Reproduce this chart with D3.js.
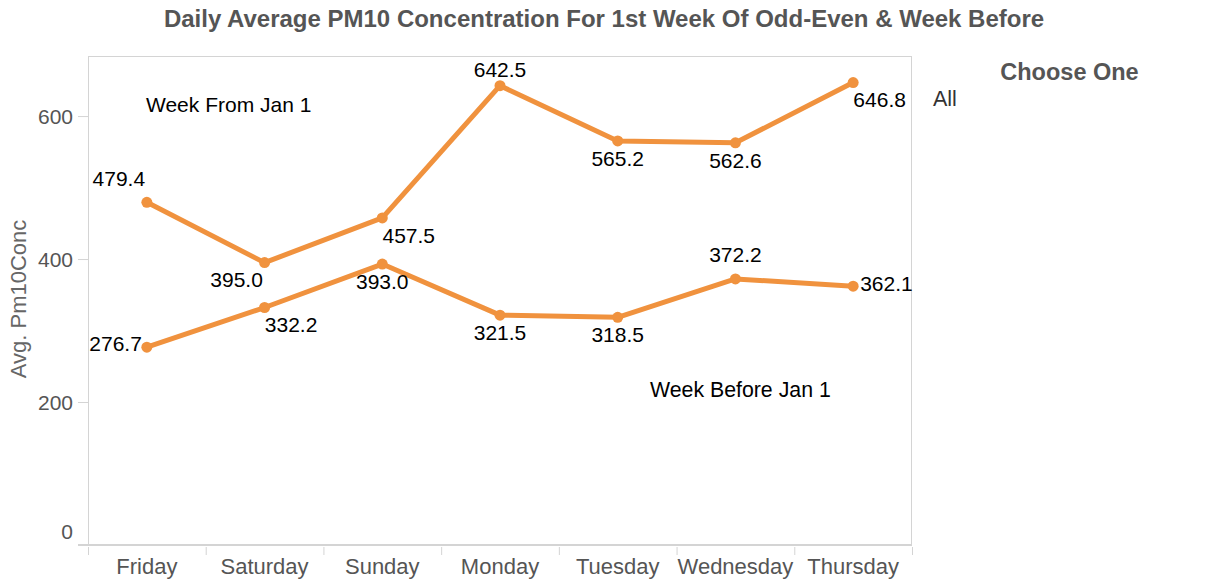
<!DOCTYPE html>
<html>
<head>
<meta charset="utf-8">
<script src="https://d3js.org/d3.v7.min.js"></script>
<style>
  body { margin: 0; background: #fff; }
  svg text { font-family: Arial, "Liberation Sans", "DejaVu Sans", sans-serif; }
</style>
</head>
<body>
<div id="chart"></div>
<script>
var svgWidth = 1208;
var svgHeight = 588;

// data
var days = ["Friday", "Saturday", "Sunday", "Monday", "Tuesday", "Wednesday", "Thursday"];
var weekFrom = [479.4, 395.0, 457.5, 642.5, 565.2, 562.6, 646.8];
var weekBefore = [276.7, 332.2, 393.0, 321.5, 318.5, 372.2, 362.1];
var yTicks = [0, 200, 400, 600];

// where each value label sits relative to its point
var fromLabelPos = ["aboveLeft", "belowLeft", "belowRight", "above", "below", "below", "belowRight"];
var beforeLabelPos = ["left", "belowRight", "below", "below", "below", "above", "right"];

var margin = { top: 56, right: 296, bottom: 43, left: 88 };
var width = svgWidth - margin.left - margin.right;
var height = svgHeight - margin.top - margin.bottom;

var svg = d3.select("#chart")
  .append("svg")
  .attr("width", svgWidth)
  .attr("height", svgHeight);

var chartGroup = svg.append("g")
  .attr("transform", `translate(${margin.left}, ${margin.top})`);

var xScale = d3.scaleBand()
  .domain(days)
  .range([0, width]);

var yScale = d3.scaleLinear()
  .domain([0, 684])
  .range([height, 0]);

var orange = "#f0923e";
var frameColor = "#d4d4d4";

// frame
chartGroup.append("rect")
  .attr("x", 0.5)
  .attr("y", 0.5)
  .attr("width", width - 1)
  .attr("height", height)
  .attr("fill", "none")
  .attr("stroke", frameColor)
  .attr("stroke-width", 1);

// y axis
var leftAxis = d3.axisLeft(yScale)
  .tickValues(yTicks)
  .tickSize(10)
  .tickPadding(5)
  .tickFormat(d3.format("d"));

var yAxis = chartGroup.append("g").call(leftAxis);
yAxis.select(".domain").remove();
yAxis.selectAll("line").attr("stroke", frameColor);
yAxis.selectAll("text")
  .attr("fill", "#555")
  .style("font-size", "21px")
  .attr("dy", null)
  .attr("y", d => d === 0 ? -7 : 7);

// bottom axis line (slightly heavier)
chartGroup.append("line")
  .attr("x1", -10)
  .attr("x2", width)
  .attr("y1", height)
  .attr("y2", height)
  .attr("stroke", frameColor)
  .attr("stroke-width", 2);

// x axis: labels centred on bands, tick marks on band edges
var xAxis = chartGroup.append("g")
  .attr("transform", `translate(0, ${height})`);

xAxis.selectAll("line.sep")
  .data(days.concat(["end"]))
  .enter()
  .append("line")
  .attr("class", "sep")
  .attr("x1", (d, i) => i * xScale.bandwidth() + 0.5)
  .attr("x2", (d, i) => i * xScale.bandwidth() + 0.5)
  .attr("y1", 2)
  .attr("y2", 10)
  .attr("stroke", frameColor);

xAxis.selectAll("text")
  .data(days)
  .enter()
  .append("text")
  .attr("x", d => xScale(d) + xScale.bandwidth() / 2)
  .attr("y", 29)
  .attr("text-anchor", "middle")
  .attr("fill", "#555")
  .style("font-size", "22px")
  .text(d => d);

// y axis title
svg.append("text")
  .attr("transform", "translate(26, 299) rotate(-90)")
  .attr("text-anchor", "middle")
  .attr("fill", "#666")
  .style("font-size", "22px")
  .text("Avg. Pm10Conc");

// lines
var line = d3.line()
  .x((d, i) => xScale(days[i]) + xScale.bandwidth() / 2)
  .y(d => yScale(d));

[weekFrom, weekBefore].forEach(function(series) {
  chartGroup.append("path")
    .datum(series)
    .attr("d", line)
    .attr("fill", "none")
    .attr("stroke", orange)
    .attr("stroke-width", 5)
    .attr("stroke-linejoin", "round");

  chartGroup.selectAll(null)
    .data(series)
    .enter()
    .append("circle")
    .attr("cx", (d, i) => xScale(days[i]) + xScale.bandwidth() / 2)
    .attr("cy", d => yScale(d))
    .attr("r", 5.5)
    .attr("fill", orange);
});

// value labels
var offsets = {
  above: [0, -24, "middle"],
  below: [0, 17.5, "middle"],
  aboveLeft: [-28, -24, "middle"],
  belowLeft: [-28, 17, "middle"],
  belowRight: [26.5, 17.5, "middle"],
  left: [-5, -3.5, "end"],
  right: [7, -2.5, "start"]
};

function drawLabels(series, positions) {
  chartGroup.selectAll(null)
    .data(series)
    .enter()
    .append("text")
    .attr("x", (d, i) => xScale(days[i]) + xScale.bandwidth() / 2 + offsets[positions[i]][0])
    // keep labels inside the pane, as the original does at the top edge
    .attr("y", (d, i) => Math.max(14, yScale(d) + offsets[positions[i]][1]))
    .attr("dy", "0.35em")
    .attr("text-anchor", (d, i) => offsets[positions[i]][2])
    .attr("fill", "#000")
    .style("font-size", "21px")
    .text(d => d3.format(".1f")(d));
}
drawLabels(weekFrom, fromLabelPos);
drawLabels(weekBefore, beforeLabelPos);

// series annotations
chartGroup.append("text")
  .attr("x", 146 - margin.left)
  .attr("y", 112 - margin.top)
  .attr("fill", "#000")
  .style("font-size", "21px")
  .text("Week From Jan 1");

chartGroup.append("text")
  .attr("x", 650 - margin.left)
  .attr("y", 397 - margin.top)
  .attr("fill", "#000")
  .style("font-size", "21.3px")
  .text("Week Before Jan 1");

// title
svg.append("text")
  .attr("x", 604)
  .attr("y", 27)
  .attr("text-anchor", "middle")
  .attr("fill", "#555")
  .style("font-size", "24px")
  .style("font-weight", "bold")
  .text("Daily Average PM10 Concentration For 1st Week Of Odd-Even & Week Before");

// filter panel
svg.append("text")
  .attr("x", 1069.5)
  .attr("y", 80)
  .attr("text-anchor", "middle")
  .attr("fill", "#555")
  .style("font-size", "23.5px")
  .style("font-weight", "bold")
  .text("Choose One");

svg.append("text")
  .attr("x", 933)
  .attr("y", 106)
  .attr("fill", "#333")
  .style("font-size", "21.5px")
  .text("All");
</script>
</body>
</html>
